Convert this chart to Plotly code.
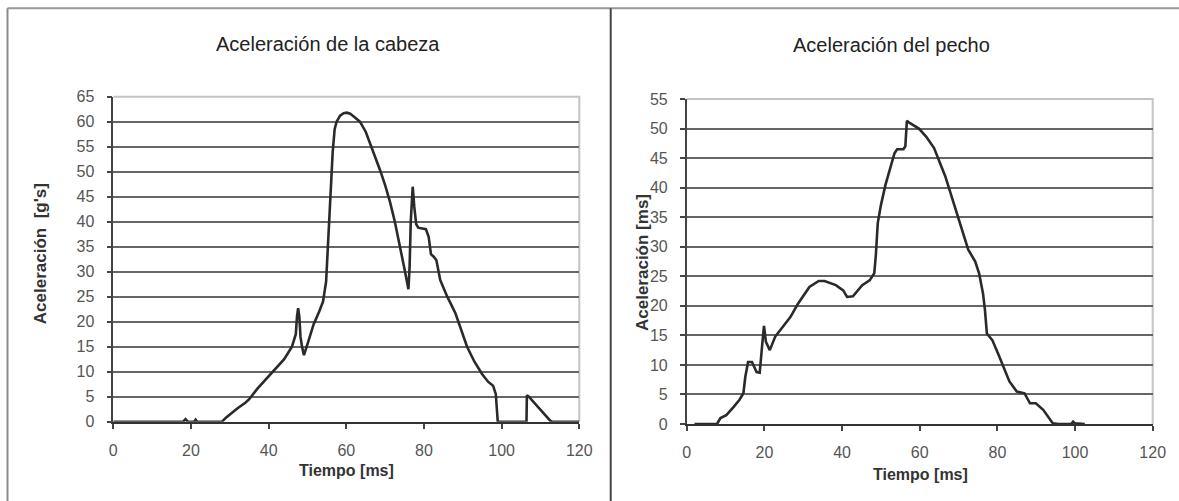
import plotly.graph_objects as go

# ---------------- data ----------------
head_t = [0, 18, 18.6, 19.2, 20.8, 21.2, 21.6, 28, 29, 30, 32, 34, 35, 37, 40, 42, 44, 46, 47,
          47.3, 47.6, 47.9, 48.2, 48.6, 49.1, 50, 51.6, 53, 54, 54.8, 55.2, 55.6, 56, 56.5, 57,
          57.5, 58.4, 59.3, 60.1, 61, 62, 63.5, 65, 66.1, 67.5, 68.7, 70, 71.3, 72.5, 73.6, 75,
          76, 76.3, 76.6, 77.1, 77.5, 78, 78.5, 80.5, 81.2, 81.8, 82.5, 83.2, 84.2, 86, 88.1, 90,
          91.1, 93, 95, 96.5, 97.8, 98.5, 98.9, 99, 106.4, 106.5, 107, 109, 111, 112.5, 113, 120]
head_a = [0, 0, 0.5, 0, 0, 0.4, 0, 0, 0.8, 1.5, 2.7, 3.8, 4.5, 6.5, 9, 10.8, 12.5, 15, 17.5,
          21, 22.7, 21, 17, 15, 13.3, 15.5, 19.5, 22, 24, 28, 34, 42, 48, 54, 58.5,
          60, 61.2, 61.7, 61.8, 61.6, 61, 60, 58, 55.7, 53, 50.3, 47.3, 43.8, 40, 36, 30.5,
          26.5, 31, 40, 47, 43, 39.5, 38.8, 38.5, 37, 33.5, 33, 32.3, 28.3, 25, 21.7, 17.5,
          15, 12, 9.5, 8, 7.2, 5.5, 0, 0, 0, 5.3, 5, 3.3, 1.6, 0.2, 0, 0]

chest_t = [2, 7.8, 8.7, 10.2, 12.1, 13.6, 14.6, 15.1, 15.8, 16.8, 18, 18.8, 19.4, 19.9, 20.4,
           21.4, 22.8, 24.8, 26.7, 28.7, 31.6, 34, 35.5, 38.4, 40.3, 41.3, 42.8, 45.2, 47.1,
           48.3, 48.7, 49.2, 50, 51.2, 52.5, 53.5, 54.2, 55.8, 56.3, 56.7, 57.5, 59.8, 61.7,
           63.7, 66.6, 68.5, 70.5, 72.5, 74.3, 75.3, 76.3, 76.8, 77.3, 78.7, 80.2, 81.6, 83.1,
           85, 87, 88.4, 89.9, 91.8, 93.3, 94.3, 95.7, 99, 99.5, 100, 102.5]
chest_a = [0, 0, 1, 1.5, 2.9, 4.1, 5.2, 8, 10.5, 10.5, 8.8, 8.7, 13.1, 16.6, 13.9,
           12.5, 14.8, 16.5, 18.1, 20.4, 23.2, 24.2, 24.2, 23.5, 22.6, 21.5, 21.6, 23.5, 24.3,
           25.5, 28.5, 34, 37, 40.5, 43.5, 45.8, 46.5, 46.5, 47, 51.3, 50.9, 50, 48.6,
           46.7, 41.9, 37.9, 33.4, 29.5, 27.5, 25.5, 22.1, 19.3, 15.3, 14.2, 11.9, 9.7, 7.2,
           5.5, 5.2, 3.5, 3.5, 2.4, 1, 0.1, 0, 0, 0.4, 0.1, 0]

x_ticks = [0, 20, 40, 60, 80, 100, 120]
head_y_ticks = list(range(0, 70, 5))
chest_y_ticks = list(range(0, 60, 5))

titles = ["Aceleración de la cabeza", "Aceleración del pecho"]
x_title = "Tiempo [ms]"
y_titles = ["Aceleración  [g's]", "Aceleración [ms]"]

# ---------------- layout helpers ----------------
W, H = 1179, 501
def px(x):
    return x / W
def py(y):
    return 1 - y / H

LINE = "#2a2a2a"
GRID = "#666666"
TICKFONT = dict(family="Liberation Sans Narrow, Arial Narrow, Liberation Sans, Arial", size=16, color="#555555")
BASEFONT = "Liberation Sans, Arial, sans-serif"

fig = go.Figure()
fig.add_trace(go.Scatter(x=head_t, y=head_a, mode="lines", line=dict(color=LINE, width=2.6),
                         xaxis="x", yaxis="y", showlegend=False, hoverinfo="skip"))
fig.add_trace(go.Scatter(x=chest_t, y=chest_a, mode="lines", line=dict(color=LINE, width=2.6),
                         xaxis="x2", yaxis="y2", showlegend=False, hoverinfo="skip"))

def xaxis_cfg(domain, anchor):
    return dict(domain=domain, anchor=anchor, range=[0, 120], tickvals=x_ticks,
                showgrid=False, zeroline=False, showline=True, linecolor="#333333", linewidth=2,
                ticks="outside", ticklen=5, tickwidth=1.5, tickcolor="#444444",
                tickfont=TICKFONT, ticklabelstandoff=8, automargin=False, fixedrange=True)

def yaxis_cfg(domain, anchor, rng, vals):
    return dict(domain=domain, anchor=anchor, range=rng, tickvals=vals,
                showgrid=True, gridcolor=GRID, gridwidth=1.7, zeroline=False,
                showline=True, linecolor="#444444", linewidth=1.5,
                ticks="outside", ticklen=5, tickwidth=1.5, tickcolor="#444444",
                tickfont=TICKFONT, ticklabelstandoff=9, automargin=False, fixedrange=True)

L = (113.3, 579.3, 96.7, 421.7)
R = (686.7, 1152.7, 99.0, 424.0)

fig.update_layout(
    width=W, height=H, template="none",
    margin=dict(l=0, r=0, t=0, b=0, pad=0),
    paper_bgcolor="white", plot_bgcolor="white",
    xaxis=xaxis_cfg([px(L[0]), px(L[1])], "y"),
    yaxis=yaxis_cfg([py(L[3]), py(L[2])], "x", [0, 65], head_y_ticks),
    xaxis2=xaxis_cfg([px(R[0]), px(R[1])], "y2"),
    yaxis2=yaxis_cfg([py(R[3]), py(R[2])], "x2", [0, 55], chest_y_ticks),
)

shapes = []
# light plot-area border (top and right) drawn above grid
for (x0, x1, y0, y1) in (L, R):
    shapes.append(dict(type="path", xref="paper", yref="paper",
                       path=f"M {px(x0)},{py(y0)} L {px(x1)},{py(y0)} L {px(x1)},{py(y1)}",
                       line=dict(color="#c4c4c4", width=2), layer="between"))
# chart frame lines
shapes.append(dict(type="line", xref="paper", yref="paper", x0=px(7.5), x1=1, y0=py(8.3), y1=py(8.3),
                   line=dict(color="#999999", width=2), layer="above"))
shapes.append(dict(type="line", xref="paper", yref="paper", x0=px(7.5), x1=px(7.5), y0=py(8.3), y1=0,
                   line=dict(color="#8a8a8a", width=2), layer="above"))
shapes.append(dict(type="line", xref="paper", yref="paper", x0=px(610.7), x1=px(610.7), y0=py(8.3), y1=0,
                   line=dict(color="#444444", width=2), layer="above"))
fig.update_layout(shapes=shapes)

ann = []
ann.append(dict(text=titles[0], x=px(328), y=py(44), xref="paper", yref="paper", showarrow=False,
                xanchor="center", yanchor="middle", font=dict(family=BASEFONT, size=20, color="#222222")))
ann.append(dict(text=titles[1], x=px(891), y=py(45), xref="paper", yref="paper", showarrow=False,
                xanchor="center", yanchor="middle", font=dict(family=BASEFONT, size=20, color="#222222")))
ann.append(dict(text=f"<b>{x_title}</b>", x=px(346), y=py(470), xref="paper", yref="paper", showarrow=False,
                xanchor="center", yanchor="middle", font=dict(family=BASEFONT, size=16, color="#333333")))
ann.append(dict(text=f"<b>{x_title}</b>", x=px(920), y=py(474), xref="paper", yref="paper", showarrow=False,
                xanchor="center", yanchor="middle", font=dict(family=BASEFONT, size=16, color="#333333")))
ann.append(dict(text=f"<b>{y_titles[0]}</b>", x=px(40.7), y=py(253.5), xref="paper", yref="paper", showarrow=False,
                textangle=-90, xanchor="center", yanchor="middle", font=dict(family=BASEFONT, size=17, color="#333333")))
ann.append(dict(text=f"<b>{y_titles[1]}</b>", x=px(642), y=py(263), xref="paper", yref="paper", showarrow=False,
                textangle=-90, xanchor="center", yanchor="middle", font=dict(family=BASEFONT, size=17, color="#333333")))
fig.update_layout(annotations=ann)

fig.write_html("out.html", config={"displayModeBar": False},
               post_script="document.body.style.margin='0';document.body.style.overflow='hidden';")
